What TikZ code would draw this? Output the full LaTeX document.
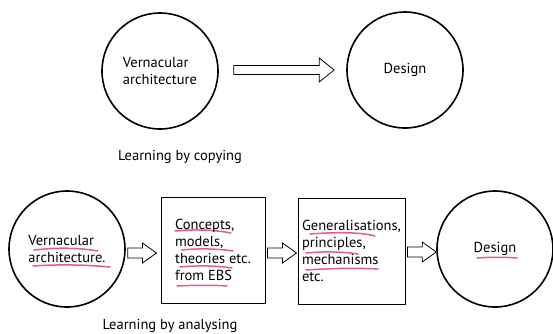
\documentclass[tikz,border=0pt]{standalone}
\usepackage{fontspec}
\setmainfont{PT Sans}
\usepackage{tikz}
\usetikzlibrary{positioning, calc}
\pgfdeclarelayer{bg}
\pgfsetlayers{bg,main}
\definecolor{marker}{RGB}{224,66,106}

\tikzset{
  bubble/.style={draw, circle, line width=1.6pt, minimum size=116pt, inner sep=0pt, align=left,
    font=\fontsize{14.5}{17}\selectfont},
  panel/.style={draw, line width=1pt, minimum height=106pt, inner sep=0pt, align=left,
    font=\fontsize{14.5}{17}\selectfont},
  caption/.style={font=\fontsize{14.5}{17}\selectfont},
  hollow/.style={draw, line width=0.8pt, line join=miter},
  redmark/.style={marker, line width=1.5pt, line cap=round, opacity=0.85}
}

% hollow block arrow: start, tip, half shaft, half head, head length
\newcommand{\fatarrow}[5]{%
  \path[hollow] ($(#1)+(0,-#3)$) -- ($(#2)+(-#5,-#3)$) -- ($(#2)+(-#5,-#4)$) -- (#2)
    -- ($(#2)+(-#5,#4)$) -- ($(#2)+(-#5,#3)$) -- ($(#1)+(0,#3)$) -- cycle;}

\begin{document}
\begin{tikzpicture}[x=1pt, y=-1pt]
    \useasboundingbox (0,0) rectangle (553,333);

    % copying
    \node [bubble] (vern) at (160,71) {Vernacular\\architecture};
    \node [bubble] (design) at (405,70) {Design};
    \node [caption] (copy) at (180,157) {Learning by copying};

    \coordinate (c0) at ($(vern.east)+(15,-1)$);
    \coordinate (c1) at ($(design.west)+(-12,0)$);
    \fatarrow{c0}{c1}{4.5}{12}{15}

    % analysing
    \node [bubble] (vernb) at (67,249) {Vernacular\\architecture.};
    \node [panel, minimum width=104pt] (ebs) at (213,250) {Concepts,\\models,\\theories etc.\\from EBS};
    \node [panel, minimum width=107pt] (gen) at (351.5,251) {Generalisations,\\principles,\\mechanisms\\etc.};
    \node [bubble] (designb) at (495,249) {Design};
    \node [caption] (analyse) at (170,326) {Learning by analysing};

    \coordinate (a0) at ($(vernb.east)+(2,4)$);
    \coordinate (a1) at ($(ebs.west)+(-4,3)$);
    \coordinate (b0) at ($(ebs.east)+(2,3)$);
    \coordinate (b1) at ($(gen.west)+(-1,2)$);
    \coordinate (d0) at ($(gen.east)+(2,1)$);
    \coordinate (d1) at ($(designb.west)+(0,3)$);
    \fatarrow{a0}{a1}{5}{10}{14}
    \fatarrow{b0}{b1}{5}{10}{14}
    \fatarrow{d0}{d1}{5}{10}{14}

    \begin{pgfonlayer}{bg}    % pen marks under the words
        \draw [redmark] (34,250) .. controls (60,247) and (80,248) .. (98,251);
        \draw [redmark] (33,266) .. controls (60,264) and (90,265) .. (110,267);
        \draw [redmark] (175,231) .. controls (195,229) and (215,230) .. (231,233);
        \draw [redmark] (182,250) .. controls (200,248) and (220,249) .. (233,251);
        \draw [redmark] (180,267) .. controls (200,265) and (220,266) .. (232,268);
        \draw [redmark] (177,286) .. controls (195,285) and (215,285) .. (227,286);
        \draw [redmark] (310,234) .. controls (335,232) and (360,232) .. (375,236);
        \draw [redmark] (306,253) .. controls (325,251) and (345,252) .. (358,254);
        \draw [redmark] (306,270) .. controls (335,268) and (360,268) .. (378,269);
        \draw [redmark] (477,258) .. controls (490,257) and (505,257) .. (517,258);
    \end{pgfonlayer}
\end{tikzpicture}
\end{document}
